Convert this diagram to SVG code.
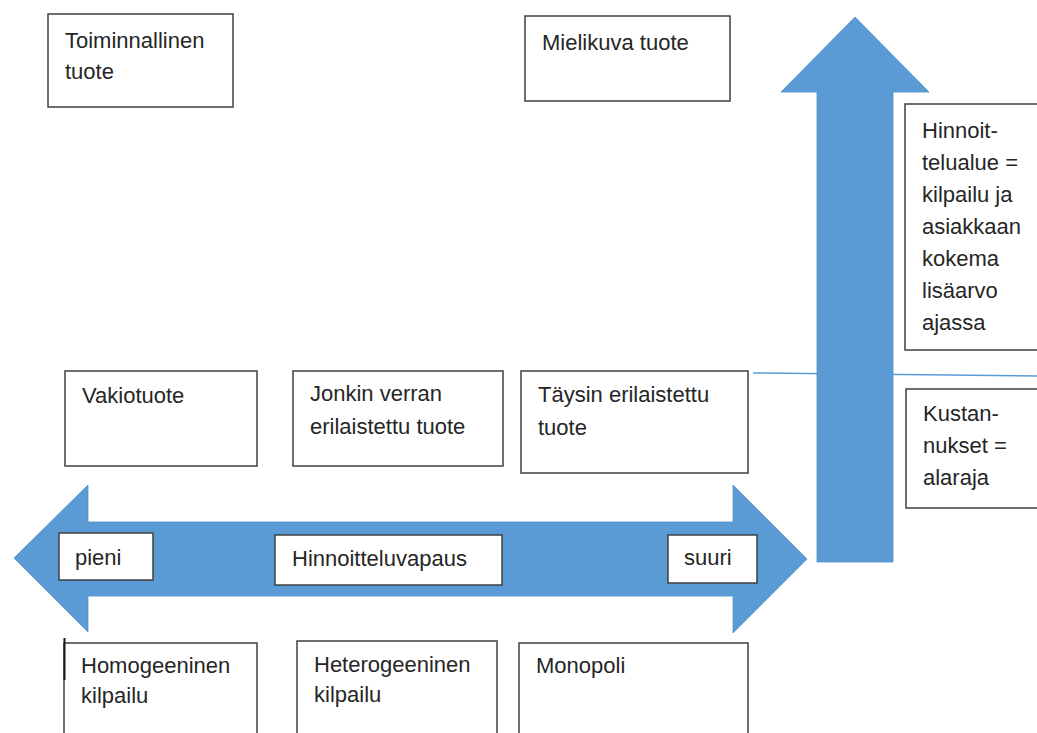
<svg xmlns="http://www.w3.org/2000/svg" width="1037" height="733" viewBox="0 0 1037 733">
  <style>
    .box { fill: #ffffff; stroke: #404040; stroke-width: 1.5; }
    .lbl { font-family: "Liberation Sans", Arial, sans-serif; font-size: 22px; fill: #262626; }
    .arrow { fill: #5b9bd5; stroke: #4f8fc8; stroke-width: 0.8; }
    .rule { stroke: #5b9bd5; stroke-width: 1.5; fill: none; }
  </style>
  <rect width="1037" height="733" fill="#ffffff"/>

  <!-- connectors: price-level divider, pricing-freedom axis and price-range axis -->
  <g id="connectors">
    <line class="rule" x1="753" y1="373" x2="1037" y2="376"/>
    <polygon class="arrow" points="14,558 88,485 88,522 733,522 733,485 807,559 733,633 733,596 88,596 88,632"/>
    <polygon class="arrow" points="855,17 929,92 893,92 893,562 817,562 817,92 781,92"/>
  </g>

  <g id="toiminnallinen">
    <rect class="box" x="48" y="14" width="185" height="93"/>
    <text class="lbl" x="65" y="48">Toiminnallinen</text>
    <text class="lbl" x="65" y="79">tuote</text>
  </g>

  <g id="mielikuva">
    <rect class="box" x="525" y="16" width="205" height="85"/>
    <text class="lbl" x="542" y="50">Mielikuva tuote</text>
  </g>

  <g id="hinnoittelualue">
    <rect class="box" x="905" y="104" width="140" height="246"/>
    <text class="lbl" x="922" y="138">Hinnoit-</text>
    <text class="lbl" x="922" y="170">telualue =</text>
    <text class="lbl" x="922" y="202">kilpailu ja</text>
    <text class="lbl" x="922" y="234">asiakkaan</text>
    <text class="lbl" x="922" y="266">kokema</text>
    <text class="lbl" x="922" y="298">lisäarvo</text>
    <text class="lbl" x="922" y="330">ajassa</text>
  </g>

  <g id="kustannukset">
    <rect class="box" x="906" y="389" width="140" height="119"/>
    <text class="lbl" x="923" y="421">Kustan-</text>
    <text class="lbl" x="923" y="453">nukset =</text>
    <text class="lbl" x="923" y="485">alaraja</text>
  </g>

  <g id="vakiotuote">
    <rect class="box" x="65" y="371" width="192" height="95"/>
    <text class="lbl" x="82" y="403">Vakiotuote</text>
  </g>

  <g id="jonkin-verran">
    <rect class="box" x="293" y="371" width="210" height="95"/>
    <text class="lbl" x="310" y="401">Jonkin verran</text>
    <text class="lbl" x="310" y="434">erilaistettu tuote</text>
  </g>

  <g id="taysin">
    <rect class="box" x="521" y="371" width="227" height="102"/>
    <text class="lbl" x="538" y="402">Täysin erilaistettu</text>
    <text class="lbl" x="538" y="435">tuote</text>
  </g>

  <g id="pieni">
    <rect class="box" x="59" y="533" width="94" height="47"/>
    <text class="lbl" x="75" y="565">pieni</text>
  </g>

  <g id="hinnoitteluvapaus">
    <rect class="box" x="275" y="535" width="227" height="50"/>
    <text class="lbl" x="292" y="566">Hinnoitteluvapaus</text>
  </g>

  <g id="suuri">
    <rect class="box" x="668" y="535" width="89" height="48"/>
    <text class="lbl" x="684" y="565">suuri</text>
  </g>

  <g id="homogeeninen">
    <rect class="box" x="64" y="643" width="193" height="100"/>
    <line x1="64.5" y1="638" x2="64.5" y2="680" stroke="#1a1a1a" stroke-width="2"/>
    <text class="lbl" x="81" y="673">Homogeeninen</text>
    <text class="lbl" x="81" y="703">kilpailu</text>
  </g>

  <g id="heterogeeninen">
    <rect class="box" x="297" y="641" width="200" height="100"/>
    <text class="lbl" x="314" y="672">Heterogeeninen</text>
    <text class="lbl" x="314" y="702">kilpailu</text>
  </g>

  <g id="monopoli">
    <rect class="box" x="519" y="643" width="229" height="100"/>
    <text class="lbl" x="536" y="673">Monopoli</text>
  </g>
</svg>
